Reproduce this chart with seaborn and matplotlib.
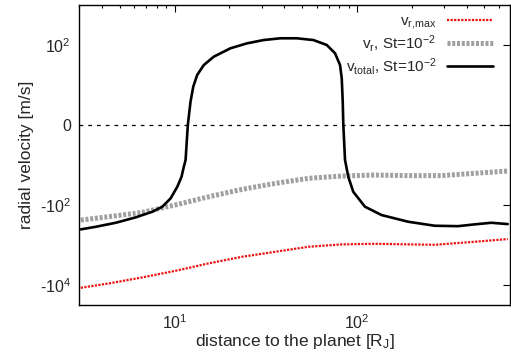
import numpy as np
import pandas as pd
import matplotlib
matplotlib.use("Agg")
import matplotlib.pyplot as plt
import matplotlib.ticker as mticker
import seaborn as sns

# ---- data ----
red_x = [3.06, 4.38, 6.66, 10.13, 15.39, 23.44, 35.64, 54.2, 82.5, 125.4, 190.7, 266.8, 441.5, 671.0]
red_y = [-11680, -9070, -6420, -4390, -2867, -1961, -1470, -1102, -960, -927, -960, -982, -826, -707]

gray_x = [3.06, 4.38, 6.66, 10.13, 15.39, 23.44, 35.64, 54.2, 82.5, 125.4, 190.7, 290.3, 441.5, 671.0]
gray_y = [-236, -194, -151, -98, -61, -39.5, -27.7, -20.5, -17.8, -16.8, -17.4, -17.4, -15.1, -13.1]

black_x = [3.06, 3.70, 4.76, 6.12, 7.55, 8.57, 9.51, 10.35, 10.92, 11.24, 11.49, 11.82, 12.23,
           12.66, 13.30, 14.46, 16.40, 20.23, 24.96, 30.76, 37.95, 46.82, 57.70, 68.31, 75.83,
           80.75, 82.5, 83.55, 84.17, 86.0, 89.6, 95.4, 110.6, 136.5, 190.7, 266.8, 357.8,
           441.5, 544.6, 671.0]
black_y = [-404, -348, -276, -202, -146, -109, -67, -33.9, -18.6, -10.0, -6.5, 0, 2.83,
           8.07, 16.8, 30.6, 50, 81.7, 109, 132, 146, 146, 132, 99, 61,
           30.6, 13.7, 2.83, 0, -6.5, -18.6, -45.5, -109, -177, -260, -328, -336,
           -303, -276, -298]

labels = [r"$v_{r{,}max}$", r"$v_r$, St=$10^{-2}$", r"$v_{total}$, St=$10^{-2}$"]
ytick_vals = [100, 0, -100, -10000]
ytick_labels = [r"$10^2$", "0", r"-$10^2$", r"-$10^4$"]

# ---- style ----
sns.set_style("white")
plt.rcParams["font.family"] = ["Liberation Sans", "DejaVu Sans"]
plt.rcParams["mathtext.default"] = "regular"
plt.rcParams["mathtext.fontset"] = "custom"
plt.rcParams["mathtext.rm"] = "Liberation Sans"
plt.rcParams["mathtext.it"] = "Liberation Sans"

fig = plt.figure(figsize=(5.11, 3.56), dpi=100)
ax = fig.add_axes([0.155, 0.143, 0.843, 0.843])


def fwd(v):
    v = np.asarray(v, dtype=float)
    return np.sign(v) * np.log10(1 + np.abs(v))


def inv(f):
    f = np.asarray(f, dtype=float)
    return np.sign(f) * (10 ** np.abs(f) - 1)


ax.set_xscale("log")
ax.set_yscale("function", functions=(fwd, inv))

ax.axhline(0, color="black", lw=0.9, ls=(0, (3, 4)), zorder=1)

df_r = pd.DataFrame({"x": red_x, "y": red_y})
df_g = pd.DataFrame({"x": gray_x, "y": gray_y})
df_b = pd.DataFrame({"x": black_x, "y": black_y})

sns.lineplot(data=df_r, x="x", y="y", ax=ax, color="#ee1111", lw=1.6,
             linestyle=(0, (1, 0.6)), label=labels[0], sort=False, estimator=None)
sns.lineplot(data=df_g, x="x", y="y", ax=ax, color="#a0a0a0", lw=3.6,
             linestyle=(0, (0.6, 0.35)), label=labels[1], sort=False, estimator=None)
sns.lineplot(data=df_b, x="x", y="y", ax=ax, color="black", lw=1.9,
             label=labels[2], sort=False, estimator=None)

ax.set_xlim(3.0, 690)
ax.set_ylim(inv(-4.5), inv(3.0))

ax.yaxis.set_major_locator(mticker.FixedLocator(ytick_vals))
ax.yaxis.set_major_formatter(mticker.FixedFormatter(ytick_labels))
ax.yaxis.set_minor_locator(mticker.NullLocator())
ax.xaxis.set_major_locator(mticker.LogLocator(base=10))
ax.xaxis.set_major_formatter(mticker.LogFormatterMathtext())
ax.xaxis.set_minor_locator(mticker.LogLocator(base=10, subs=np.arange(2, 10)))
ax.xaxis.set_minor_formatter(mticker.NullFormatter())

ax.tick_params(axis="both", which="both", direction="in", top=True, right=True,
               labelsize=11.5, color="black")
ax.tick_params(axis="both", which="major", length=5, width=0.8, pad=6)
ax.tick_params(axis="x", which="minor", length=2.5, width=0.8)

for s in ax.spines.values():
    s.set_color("black")
    s.set_linewidth(1.0)

ax.set_xlabel(r"distance to the planet [$R_J$]", fontsize=12.5, labelpad=0)
ax.set_ylabel("radial velocity [m/s]", fontsize=12.5, labelpad=4)

leg = ax.legend(loc="upper right", bbox_to_anchor=(0.975, 0.99), borderaxespad=0.0,
                frameon=False, markerfirst=False, fontsize=11,
                handlelength=3.0, labelspacing=0.12, handletextpad=0.7)
for t in leg.get_texts():
    t.set_ha("right")

fig.savefig("out.png", dpi=100)
